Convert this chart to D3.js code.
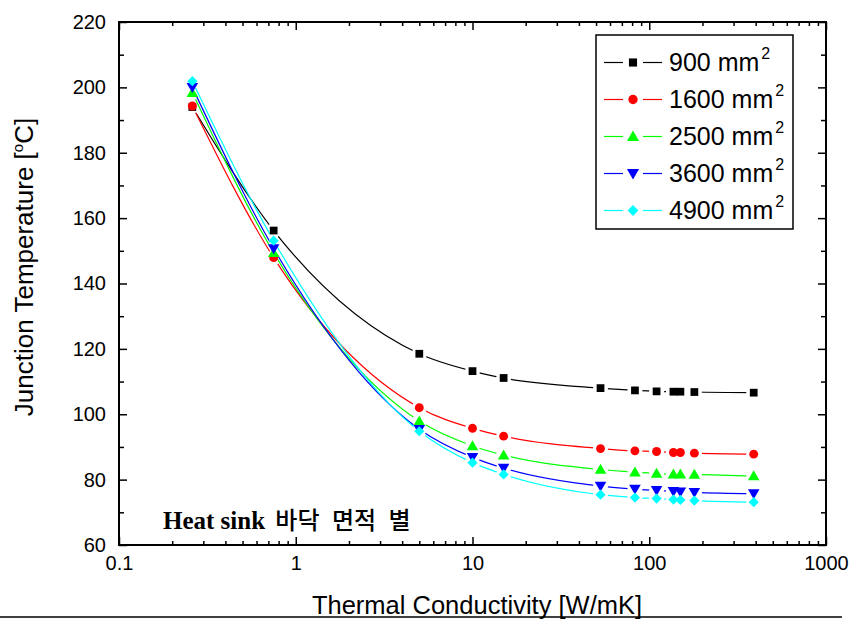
<!DOCTYPE html>
<html>
<head>
<meta charset="utf-8">
<script src="https://cdn.jsdelivr.net/npm/d3@7"></script>
<style>
  body { margin: 0; background: #fff; }
  svg { display: block; }
</style>
</head>
<body>
<script>
// Data
const conductivity = [0.26, 0.75, 5, 10, 15, 53, 83, 110, 137, 150, 180, 390];
const areaLabels = ["900", "1600", "2500", "3600", "4900"];
const t900  = [194.0, 156.2, 118.5, 113.2, 111.1, 108.0, 107.3, 107.0, 106.9, 106.9, 106.8, 106.6];
const t1600 = [194.3, 147.9, 102.0, 95.7, 93.3, 89.5, 88.8, 88.6, 88.3, 88.3, 88.1, 87.8];
const t2500 = [198.4, 149.4, 97.9, 90.3, 87.5, 83.1, 82.3, 81.9, 81.7, 81.7, 81.6, 81.1];
const t3600 = [200.0, 150.7, 95.4, 86.8, 83.5, 78.0, 77.1, 76.7, 76.4, 76.3, 76.1, 75.7];
const t4900 = [201.9, 153.1, 94.8, 85.2, 81.6, 75.4, 74.5, 74.2, 73.9, 73.8, 73.6, 73.1];
const xTicks = [0.1, 1, 10, 100, 1000];
const yTicks = [60, 80, 100, 120, 140, 160, 180, 200, 220];

const w = 853, h = 619;
const padL = 119, padR = 826, padT = 22, padB = 545;

const colors = ["#000000", "#ff0000", "#00ff00", "#0000ff", "#00ffff"];
const shapes = [
  {type: d3.symbolSquare, size: 60, rot: 0, dy: 0},
  {type: d3.symbolCircle, size: 62, rot: 0, dy: 0},
  {type: d3.symbolTriangle, size: 58, rot: 0, dy: 1},
  {type: d3.symbolTriangle, size: 58, rot: 180, dy: -1},
  {type: d3.symbolSquare, size: 52, rot: 45, dy: 0}
];
const seriesValues = [t900, t1600, t2500, t3600, t4900];
const series = seriesValues.map((vals, i) => ({
  label: areaLabels[i],
  color: colors[i],
  shape: shapes[i],
  points: conductivity.map((k, j) => ({k: k, t: vals[j]}))
}));

const svg = d3.select("body").append("svg")
  .attr("width", w)
  .attr("height", h)
  .style("font-family", "'Liberation Sans', Arial, sans-serif");

const x = d3.scaleLog().domain([0.1, 1000]).range([padL, padR]);
const y = d3.scaleLinear().domain([60, 220]).range([padB, padT]);

// minor ticks
const xMinor = [];
for (let d = 0.1; d < 1000; d *= 10) {
  for (let m = 2; m <= 9; m++) xMinor.push(+(d * m).toPrecision(3));
}
const yMinor = d3.range(70, 220, 20);

// axes (ticks drawn inward)
const gx = svg.append("g").attr("transform", `translate(0,${padB})`)
  .call(d3.axisBottom(x).tickValues(xTicks).tickFormat(d3.format("~g"))
    .tickSizeInner(-8).tickSizeOuter(0).tickPadding(11));
const gxm = svg.append("g").attr("transform", `translate(0,${padB})`)
  .call(d3.axisBottom(x).tickValues(xMinor).tickFormat("").tickSizeInner(-4).tickSizeOuter(0));
const gxt = svg.append("g").attr("transform", `translate(0,${padT})`)
  .call(d3.axisTop(x).tickValues(xTicks).tickFormat("").tickSizeInner(-8).tickSizeOuter(0));
const gxtm = svg.append("g").attr("transform", `translate(0,${padT})`)
  .call(d3.axisTop(x).tickValues(xMinor).tickFormat("").tickSizeInner(-4).tickSizeOuter(0));

const gy = svg.append("g").attr("transform", `translate(${padL},0)`)
  .call(d3.axisLeft(y).tickValues(yTicks)
    .tickSizeInner(-8).tickSizeOuter(0).tickPadding(13));
const gym = svg.append("g").attr("transform", `translate(${padL},0)`)
  .call(d3.axisLeft(y).tickValues(yMinor).tickFormat("").tickSizeInner(-5).tickSizeOuter(0));
const gyr = svg.append("g").attr("transform", `translate(${padR},0)`)
  .call(d3.axisRight(y).tickValues(yTicks).tickFormat("").tickSizeInner(-8).tickSizeOuter(0));
const gyrm = svg.append("g").attr("transform", `translate(${padR},0)`)
  .call(d3.axisRight(y).tickValues(yMinor).tickFormat("").tickSizeInner(-5).tickSizeOuter(0));

[gx, gxm, gxt, gxtm, gy, gym, gyr, gyrm].forEach(g => {
  g.select(".domain").remove();
  g.selectAll(".tick line").attr("stroke", "#000").attr("stroke-width", 1.5);
  g.selectAll("text").attr("font-family", "'Liberation Sans', Arial, sans-serif")
    .attr("font-size", 20).attr("fill", "#000");
});

// frame
svg.append("rect")
  .attr("x", padL).attr("y", padT)
  .attr("width", padR - padL).attr("height", padB - padT)
  .attr("fill", "none").attr("stroke", "#000").attr("stroke-width", 2);

// axis titles
svg.append("text")
  .attr("x", 477).attr("y", 614)
  .attr("text-anchor", "middle").attr("font-size", 25.5)
  .text("Thermal Conductivity [W/mK]");

const yt = svg.append("text")
  .attr("transform", `translate(33,267) rotate(-90)`)
  .attr("text-anchor", "middle").attr("font-size", 26);
yt.append("tspan").text("Junction Temperature [");
yt.append("tspan").attr("font-size", 15).attr("dy", -10).text("o");
yt.append("tspan").attr("dy", 10).text("C]");

// masks so lines break around the markers
const defs = svg.append("defs");
series.forEach((s, i) => {
  const m = defs.append("mask").attr("id", "gap" + i).attr("maskUnits", "userSpaceOnUse")
    .attr("x", 0).attr("y", 0).attr("width", w).attr("height", h);
  m.append("rect").attr("width", w).attr("height", h).attr("fill", "#fff");
  m.selectAll("circle").data(s.points).enter().append("circle")
    .attr("cx", d => x(d.k)).attr("cy", d => y(d.t)).attr("r", 7.5).attr("fill", "#000");
});

const line = d3.line()
  .x(d => x(d.k))
  .y(d => y(d.t))
  .curve(d3.curveMonotoneX);

series.forEach((s, i) => {
  svg.append("path")
    .datum(s.points)
    .attr("d", line)
    .attr("fill", "none")
    .attr("stroke", s.color)
    .attr("stroke-width", 1.2)
    .attr("mask", `url(#gap${i})`);
});

series.forEach(s => {
  const sym = d3.symbol().type(s.shape.type).size(s.shape.size);
  svg.append("g").selectAll("path").data(s.points).enter().append("path")
    .attr("d", sym)
    .attr("transform", d => `translate(${x(d.k)},${y(d.t) + s.shape.dy}) rotate(${s.shape.rot})`)
    .attr("fill", s.color);
});

// legend
const lg = svg.append("g");
lg.append("rect")
  .attr("x", 596).attr("y", 35).attr("width", 197).attr("height", 194)
  .attr("fill", "#fff").attr("stroke", "#000").attr("stroke-width", 1.5);
series.forEach((s, i) => {
  const ly = 62.5 + i * 37;
  lg.append("line").attr("x1", 604).attr("x2", 623).attr("y1", ly).attr("y2", ly)
    .attr("stroke", s.color).attr("stroke-width", 1.2);
  lg.append("line").attr("x1", 643).attr("x2", 662).attr("y1", ly).attr("y2", ly)
    .attr("stroke", s.color).attr("stroke-width", 1.2);
  lg.append("path")
    .attr("d", d3.symbol().type(s.shape.type).size(s.shape.size + 6))
    .attr("transform", `translate(633,${ly + s.shape.dy}) rotate(${s.shape.rot})`)
    .attr("fill", s.color);
  const t = lg.append("text").attr("x", 669).attr("y", ly + 8.5).attr("font-size", 25);
  t.append("tspan").text(s.label + " mm");
  t.append("tspan").attr("font-size", 16).attr("dx", 2).attr("dy", -12).text("2");
});

// annotation
const note = svg.append("text").attr("x", 163).attr("y", 529);
note.append("tspan").attr("font-family", "'Liberation Serif', 'Times New Roman', serif")
  .attr("font-weight", "bold").attr("font-size", 25).text("Heat sink ");
note.append("tspan").attr("font-family", "'Noto Sans CJK KR', sans-serif")
  .attr("font-size", 24).attr("font-weight", 500).attr("dx", 4)
  .attr("word-spacing", 7).text("바닥 면적 별");

// page line at the bottom
svg.append("line").attr("x1", 0).attr("x2", 842).attr("y1", 617).attr("y2", 617)
  .attr("stroke", "#000").attr("stroke-width", 1.5);
</script>
</body>
</html>
